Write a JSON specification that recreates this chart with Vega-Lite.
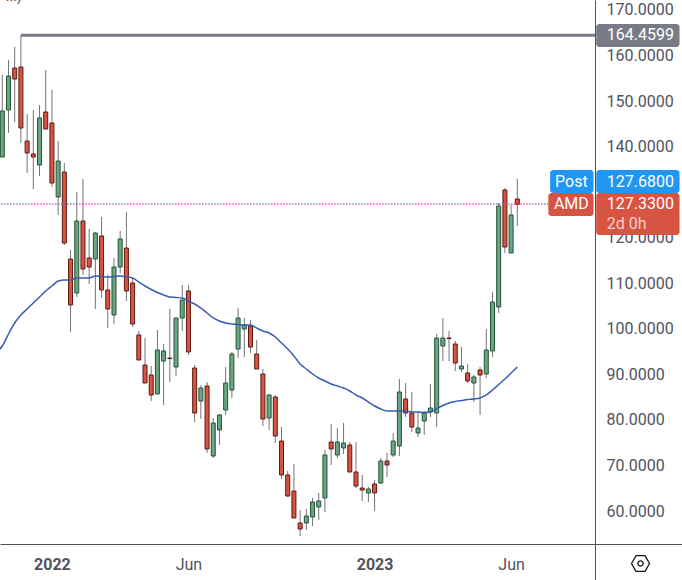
{
  "$schema": "https://vega.github.io/schema/vega-lite/v6.json",
  "width": 682,
  "height": 580,
  "padding": 0,
  "autosize": {"type": "none"},
  "background": "#ffffff",
  "datasets": {
    "weekly": [
      {"d":"2021-11-01","ma":94.69},
      {"d":"2021-11-08","o":137.71,"h":155.71,"l":137.71,"c":147.81,"ma":96.22},
      {"d":"2021-11-15","o":148.03,"h":159.0,"l":142.98,"c":155.49,"ma":98.86},
      {"d":"2021-11-22","o":157.24,"h":161.85,"l":145.39,"c":154.83,"ma":101.27},
      {"d":"2021-11-29","o":157.46,"h":164.46,"l":140.78,"c":144.07,"ma":103.03},
      {"d":"2021-12-06","o":141.22,"h":147.15,"l":134.2,"c":138.59,"ma":104.35},
      {"d":"2021-12-13","o":138.37,"h":148.03,"l":130.68,"c":137.71,"ma":105.66},
      {"d":"2021-12-20","o":135.95,"h":149.12,"l":133.54,"c":146.27,"ma":106.98},
      {"d":"2021-12-27","o":147.59,"h":156.81,"l":143.85,"c":143.85,"ma":108.3},
      {"d":"2022-01-03","o":145.17,"h":152.42,"l":131.12,"c":132.0,"ma":109.39},
      {"d":"2022-01-10","o":128.93,"h":141.22,"l":124.98,"c":136.83,"ma":110.49},
      {"d":"2022-01-17","o":134.42,"h":136.39,"l":118.39,"c":118.83,"ma":110.71},
      {"d":"2022-01-24","o":115.32,"h":117.3,"l":99.3,"c":105.22,"ma":110.71},
      {"d":"2022-01-31","o":107.86,"h":130.03,"l":106.98,"c":123.66,"ma":111.15},
      {"d":"2022-02-07","o":123.66,"h":132.88,"l":111.81,"c":113.12,"ma":111.15},
      {"d":"2022-02-14","o":115.54,"h":121.91,"l":109.83,"c":113.56,"ma":111.15},
      {"d":"2022-02-21","o":115.32,"h":121.25,"l":104.35,"c":121.03,"ma":111.59},
      {"d":"2022-02-28","o":120.37,"h":124.54,"l":106.76,"c":108.52,"ma":111.48},
      {"d":"2022-03-07","o":108.52,"h":111.81,"l":100.17,"c":104.35,"ma":111.37},
      {"d":"2022-03-14","o":103.03,"h":115.54,"l":101.05,"c":113.56,"ma":111.48},
      {"d":"2022-03-21","o":113.56,"h":121.47,"l":112.25,"c":119.71,"ma":111.59},
      {"d":"2022-03-28","o":117.73,"h":125.64,"l":106.1,"c":108.3,"ma":111.37},
      {"d":"2022-04-04","o":110.05,"h":111.15,"l":100.39,"c":101.05,"ma":111.15},
      {"d":"2022-04-11","o":98.64,"h":99.52,"l":93.15,"c":93.15,"ma":110.27},
      {"d":"2022-04-18","o":92.05,"h":97.98,"l":88.1,"c":88.1,"ma":109.39},
      {"d":"2022-04-25","o":89.86,"h":91.83,"l":84.15,"c":85.47,"ma":108.62},
      {"d":"2022-05-02","o":85.69,"h":99.73,"l":85.69,"c":95.35,"ma":107.97},
      {"d":"2022-05-09","o":92.93,"h":96.66,"l":83.27,"c":95.13,"ma":107.42},
      {"d":"2022-05-16","o":93.59,"h":104.35,"l":88.32,"c":93.46,"ma":106.98},
      {"d":"2022-05-23","o":91.61,"h":102.37,"l":89.64,"c":102.37,"ma":106.87},
      {"d":"2022-05-30","o":102.37,"h":109.61,"l":99.52,"c":106.32,"ma":106.76},
      {"d":"2022-06-06","o":108.3,"h":109.61,"l":94.25,"c":94.91,"ma":106.1},
      {"d":"2022-06-13","o":91.39,"h":92.05,"l":79.54,"c":81.52,"ma":105.44},
      {"d":"2022-06-20","o":84.15,"h":87.66,"l":80.2,"c":87.0,"ma":104.56},
      {"d":"2022-06-27","o":87.44,"h":88.32,"l":72.74,"c":73.62,"ma":103.47},
      {"d":"2022-07-04","o":72.08,"h":80.42,"l":71.64,"c":79.32,"ma":102.37},
      {"d":"2022-07-11","o":77.78,"h":81.3,"l":74.5,"c":81.08,"ma":101.71},
      {"d":"2022-07-18","o":82.18,"h":91.61,"l":81.08,"c":88.1,"ma":101.27},
      {"d":"2022-07-25","o":86.56,"h":94.91,"l":84.81,"c":94.47,"ma":101.05},
      {"d":"2022-08-01","o":95.56,"h":104.56,"l":93.59,"c":102.37,"ma":100.94},
      {"d":"2022-08-08","o":99.95,"h":102.37,"l":93.81,"c":100.83,"ma":100.83},
      {"d":"2022-08-15","o":100.61,"h":101.93,"l":94.69,"c":96.0,"ma":100.83},
      {"d":"2022-08-22","o":94.47,"h":97.54,"l":91.17,"c":91.17,"ma":100.17},
      {"d":"2022-08-29","o":90.08,"h":91.17,"l":78.66,"c":80.2,"ma":99.52},
      {"d":"2022-09-05","o":80.42,"h":85.69,"l":77.78,"c":85.47,"ma":99.08},
      {"d":"2022-09-12","o":85.03,"h":85.47,"l":74.93,"c":76.47,"ma":98.2},
      {"d":"2022-09-19","o":75.37,"h":78.44,"l":67.03,"c":67.91,"ma":96.88},
      {"d":"2022-09-26","o":67.91,"h":68.79,"l":63.08,"c":63.3,"ma":95.56},
      {"d":"2022-10-03","o":64.39,"h":70.32,"l":58.47,"c":58.47,"ma":94.03},
      {"d":"2022-10-10","o":57.37,"h":60.22,"l":54.52,"c":56.05,"ma":92.27},
      {"d":"2022-10-17","o":57.37,"h":60.45,"l":55.84,"c":58.91,"ma":91.17},
      {"d":"2022-10-24","o":58.69,"h":62.86,"l":56.71,"c":61.98,"ma":90.08},
      {"d":"2022-10-31","o":60.89,"h":63.96,"l":58.03,"c":62.2,"ma":89.2},
      {"d":"2022-11-07","o":62.86,"h":73.4,"l":59.79,"c":72.3,"ma":88.54},
      {"d":"2022-11-14","o":75.15,"h":79.1,"l":70.1,"c":73.62,"ma":87.88},
      {"d":"2022-11-21","o":72.3,"h":78.22,"l":71.64,"c":75.15,"ma":87.44},
      {"d":"2022-11-28","o":73.84,"h":79.32,"l":72.52,"c":74.93,"ma":87.0},
      {"d":"2022-12-05","o":74.49,"h":75.15,"l":68.57,"c":68.57,"ma":86.35},
      {"d":"2022-12-12","o":68.57,"h":75.15,"l":65.05,"c":65.49,"ma":85.47},
      {"d":"2022-12-19","o":65.05,"h":67.91,"l":62.2,"c":64.61,"ma":84.81},
      {"d":"2022-12-26","o":63.96,"h":65.27,"l":61.98,"c":64.83,"ma":83.93},
      {"d":"2023-01-02","o":65.93,"h":66.81,"l":60.0,"c":63.96,"ma":83.05},
      {"d":"2023-01-09","o":66.15,"h":71.64,"l":65.93,"c":70.98,"ma":82.39},
      {"d":"2023-01-16","o":70.98,"h":72.74,"l":67.47,"c":70.1,"ma":81.96},
      {"d":"2023-01-23","o":72.3,"h":77.13,"l":71.86,"c":75.37,"ma":81.96},
      {"d":"2023-01-30","o":74.27,"h":88.98,"l":72.08,"c":86.13,"ma":81.96},
      {"d":"2023-02-06","o":84.59,"h":88.1,"l":80.64,"c":81.52,"ma":81.96},
      {"d":"2023-02-13","o":81.52,"h":86.13,"l":77.35,"c":78.44,"ma":81.74},
      {"d":"2023-02-20","o":77.13,"h":81.74,"l":76.25,"c":78.22,"ma":81.74},
      {"d":"2023-02-27","o":79.76,"h":81.96,"l":76.69,"c":81.52,"ma":81.63},
      {"d":"2023-03-06","o":81.74,"h":87.88,"l":80.64,"c":82.61,"ma":81.74},
      {"d":"2023-03-13","o":81.52,"h":98.86,"l":78.44,"c":97.98,"ma":82.5},
      {"d":"2023-03-20","o":96.22,"h":102.37,"l":92.93,"c":97.98,"ma":83.16},
      {"d":"2023-03-27","o":97.98,"h":99.52,"l":92.93,"c":97.85,"ma":83.71},
      {"d":"2023-04-03","o":96.66,"h":97.32,"l":90.73,"c":92.49,"ma":84.04},
      {"d":"2023-04-10","o":91.17,"h":96.0,"l":90.52,"c":91.83,"ma":84.26},
      {"d":"2023-04-17","o":90.3,"h":92.27,"l":88.1,"c":88.54,"ma":84.48},
      {"d":"2023-04-24","o":88.1,"h":89.86,"l":83.93,"c":89.42,"ma":84.59},
      {"d":"2023-05-01","o":90.96,"h":91.61,"l":81.08,"c":89.86,"ma":84.81},
      {"d":"2023-05-08","o":90.08,"h":99.95,"l":89.2,"c":95.35,"ma":85.47},
      {"d":"2023-05-15","o":95.13,"h":108.08,"l":93.81,"c":105.88,"ma":86.56},
      {"d":"2023-05-22","o":104.78,"h":127.61,"l":103.47,"c":126.95,"ma":87.77},
      {"d":"2023-05-29","o":130.47,"h":130.9,"l":116.64,"c":117.95,"ma":88.98},
      {"d":"2023-06-05","o":116.64,"h":127.17,"l":116.64,"c":124.98,"ma":90.3},
      {"d":"2023-06-12","o":128.49,"h":132.88,"l":122.56,"c":127.33,"ma":91.61}
    ],
    "whiteLabels": [
      {"label":"164.4599","mid":164.46},
      {"label":"127.6800","mid":132.33},
      {"label":"127.3300","mid":127.39}
    ],
    "sideLabels": [
      {"label":"Post","mid":132.33},
      {"label":"AMD","mid":127.39}
    ]
  },
  "data": {"name": "weekly"},
  "layer": [
    {
      "transform": [{"filter": "isValid(datum.o)"}],
      "mark": {"type": "rule", "color": "#737375", "strokeWidth": 1},
      "encoding": {
        "x": {
          "field": "d",
          "type": "temporal",
          "title": null,
          "scale": {"type": "utc", "padding": 0, "domain": [{"year":2021,"month":11,"date":5,"hours":10,"utc":true}, {"year":2023,"month":12,"date":14,"hours":19,"utc":true}]},
          "axis": {
            "orient": "bottom",
            "offset": -36,
            "values": [
              {"year":2022,"month":1,"date":3,"utc":true},
              {"year":2022,"month":6,"date":6,"utc":true},
              {"year":2023,"month":1,"date":2,"utc":true},
              {"year":2023,"month":6,"date":5,"utc":true}
            ],
            "labelExpr": "utcmonth(datum.value)==0 ? utcFormat(datum.value,'%Y') : 'Jun'",
            "labelFontWeight": {"expr": "utcmonth(datum.value)==0 ? 'bold' : 'normal'"},
            "labelFont": "Roboto",
            "labelFontSize": 16,
            "labelColor": "#50535e",
            "labelPadding": 12,
            "labelOverlap": false,
            "labelFlush": false,
            "ticks": false,
            "grid": false,
            "domainColor": "#50535e",
            "domainWidth": 1
          }
        },
        "y": {
          "field": "h",
          "type": "quantitative",
          "title": null,
          "scale": {"domain": [44.86, 172.17], "nice": false, "zero": false},
          "axis": {
            "orient": "right",
            "offset": -87,
            "values": [60,70,80,90,100,110,120,140,150,160,170],
            "format": ".4f",
            "labelFont": "Roboto",
            "labelFontSize": 16,
            "labelColor": "#50535e",
            "labelPadding": 11,
            "labelOverlap": false,
            "labelFlush": false,
            "ticks": false,
            "grid": false,
            "domainColor": "#50535e",
            "domainWidth": 1
          }
        },
        "y2": {"field": "l"}
      }
    },
    {
      "transform": [{"filter": "isValid(datum.o)"}],
      "mark": {"type": "bar", "size": 4, "strokeWidth": 1},
      "encoding": {
        "x": {"field": "d", "type": "temporal"},
        "y": {"field": "o", "type": "quantitative"},
        "y2": {"field": "c"},
        "color": {"condition": {"test": "datum.c > datum.o", "value": "#6ba583"}, "value": "#d75442"},
        "stroke": {"condition": {"test": "datum.c > datum.o", "value": "#225437"}, "value": "#5b1a13"}
      }
    },
    {
      "mark": {"type": "line", "color": "#3a5bb0", "strokeWidth": 1.5, "interpolate": "monotone"},
      "encoding": {
        "x": {"field": "d", "type": "temporal"},
        "y": {"field": "ma", "type": "quantitative"}
      }
    },
    {
      "data": {"values": [{"price": 164.4599}]},
      "mark": {"type": "rule", "color": "#787b86", "strokeWidth": 3},
      "encoding": {
        "x": {"datum": {"year":2021,"month":11,"date":29,"utc":true}, "type": "temporal"},
        "x2": {"datum": {"year":2023,"month":9,"date":7,"hours":17,"utc":true}},
        "y": {"field": "price", "type": "quantitative"}
      }
    },
    {
      "data": {"values": [{"price": 127.5}]},
      "mark": {"type": "rule", "color": "#2196f3", "strokeWidth": 1, "strokeDash": [1, 2]},
      "encoding": {
        "x": {"datum": {"year":2021,"month":11,"date":7,"utc":true}, "type": "temporal"},
        "x2": {"datum": {"year":2023,"month":7,"date":17,"utc":true}},
        "y": {"field": "price", "type": "quantitative"}
      }
    },
    {
      "data": {"values": [{"price": 127.28}]},
      "mark": {"type": "rule", "color": "#d75442", "strokeWidth": 1, "strokeDash": [1, 2]},
      "encoding": {
        "x": {"datum": {"year":2021,"month":11,"date":7,"utc":true}, "type": "temporal"},
        "x2": {"datum": {"year":2023,"month":7,"date":17,"utc":true}},
        "y": {"field": "price", "type": "quantitative"}
      }
    },
    {
      "data": {"values": [{"tag": "level"}]},
      "mark": {"type": "rect", "color": "#787b86", "cornerRadius": 3},
      "encoding": {
        "x": {"datum": {"year":2023,"month":9,"date":9,"utc":true}, "type": "temporal"},
        "x2": {"datum": {"year":2023,"month":12,"date":12,"utc":true}},
        "y": {"datum": 166.9, "type": "quantitative"},
        "y2": {"datum": 161.85}
      }
    },
    {
      "data": {"values": [{"tag": "post"}]},
      "mark": {"type": "rect", "color": "#2196f3", "cornerRadius": 3},
      "encoding": {
        "x": {"datum": {"year":2023,"month":9,"date":9,"utc":true}, "type": "temporal"},
        "x2": {"datum": {"year":2023,"month":12,"date":12,"utc":true}},
        "y": {"datum": 134.86, "type": "quantitative"},
        "y2": {"datum": 129.81}
      }
    },
    {
      "data": {"values": [{"tag": "post"}]},
      "mark": {"type": "rect", "color": "#2196f3", "cornerRadius": 3},
      "encoding": {
        "x": {"datum": {"year":2023,"month":7,"date":19,"utc":true}, "type": "temporal"},
        "x2": {"datum": {"year":2023,"month":9,"date":6,"utc":true}},
        "y": {"datum": 134.86, "type": "quantitative"},
        "y2": {"datum": 129.81}
      }
    },
    {
      "data": {"values": [{"tag": "amd"}]},
      "mark": {"type": "rect", "color": "#d75442", "cornerRadius": 3},
      "encoding": {
        "x": {"datum": {"year":2023,"month":9,"date":9,"utc":true}, "type": "temporal"},
        "x2": {"datum": {"year":2023,"month":12,"date":12,"utc":true}},
        "y": {"datum": 129.81, "type": "quantitative"},
        "y2": {"datum": 120.59}
      }
    },
    {
      "data": {"values": [{"tag": "amd"}]},
      "mark": {"type": "rect", "color": "#d75442", "cornerRadius": 3},
      "encoding": {
        "x": {"datum": {"year":2023,"month":7,"date":17,"utc":true}, "type": "temporal"},
        "x2": {"datum": {"year":2023,"month":9,"date":6,"utc":true}},
        "y": {"datum": 129.81, "type": "quantitative"},
        "y2": {"datum": 124.76}
      }
    },
    {
      "data": {"name": "whiteLabels"},
      "mark": {"type": "text", "color": "#ffffff", "font": "Roboto", "fontSize": 16, "align": "left", "baseline": "middle"},
      "encoding": {
        "x": {"datum": {"year":2023,"month":9,"date":21,"utc":true}, "type": "temporal"},
        "y": {"field": "mid", "type": "quantitative"},
        "text": {"field": "label"}
      }
    },
    {
      "data": {"values": [{"label": "2d 0h", "mid": 123.0}]},
      "mark": {"type": "text", "color": "#ffffff", "opacity": 0.7, "font": "Roboto", "fontSize": 16, "align": "left", "baseline": "middle"},
      "encoding": {
        "x": {"datum": {"year":2023,"month":9,"date":21,"utc":true}, "type": "temporal"},
        "y": {"field": "mid", "type": "quantitative"},
        "text": {"field": "label"}
      }
    },
    {
      "data": {"name": "sideLabels"},
      "mark": {"type": "text", "color": "#ffffff", "font": "Roboto", "fontSize": 16, "align": "center", "baseline": "middle"},
      "encoding": {
        "x": {"datum": {"year":2023,"month":8,"date":12,"utc":true}, "type": "temporal"},
        "y": {"field": "mid", "type": "quantitative"},
        "text": {"field": "label"}
      }
    },
    {
      "data": {"values": [{"label": "...)", "mid": 171.95}]},
      "mark": {"type": "text", "color": "#8b3a3a", "font": "Roboto", "fontSize": 14, "align": "right", "baseline": "alphabetic"},
      "encoding": {
        "x": {"datum": {"year":2021,"month":11,"date":30,"utc":true}, "type": "temporal"},
        "y": {"field": "mid", "type": "quantitative"},
        "text": {"field": "label"}
      }
    },
    {
      "data": {"values": [{"icon": "settings"}]},
      "mark": {"type": "point", "shape": "M-1,0 L-0.5,-0.87 L0.5,-0.87 L1,0 L0.5,0.87 L-0.5,0.87 Z", "size": 324, "stroke": "#131722", "strokeWidth": 1.3, "fill": null, "opacity": 1},
      "encoding": {
        "x": {"datum": {"year":2023,"month":10,"date":29,"utc":true}, "type": "temporal"},
        "y": {"datum": 48.48, "type": "quantitative"}
      }
    },
    {
      "data": {"values": [{"icon": "settings"}]},
      "mark": {"type": "point", "shape": "circle", "size": 28, "stroke": "#131722", "strokeWidth": 1.3, "fill": null, "opacity": 1},
      "encoding": {
        "x": {"datum": {"year":2023,"month":10,"date":29,"utc":true}, "type": "temporal"},
        "y": {"datum": 48.48, "type": "quantitative"}
      }
    }
  ],
  "config": {
    "view": {"stroke": null},
    "axis": {"labelBound": false}
  }
}
